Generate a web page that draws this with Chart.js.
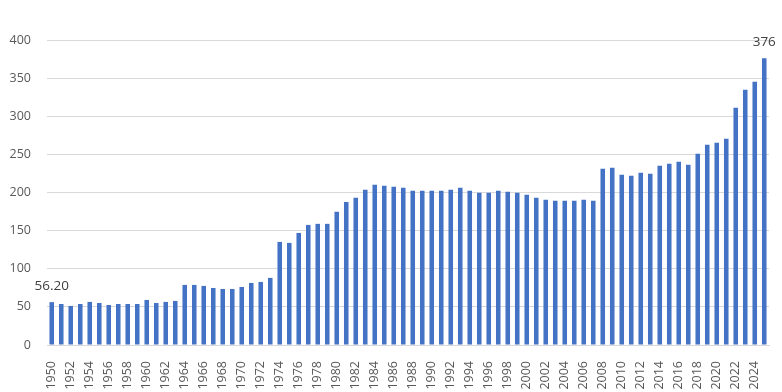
<!DOCTYPE html>
<html>
<head>
<meta charset="utf-8">
<script src="https://cdn.jsdelivr.net/npm/chart.js@4"></script>
<style>
  html, body { margin: 0; padding: 0; background: #fff; }
  #wrap { width: 782px; height: 392px; }
</style>
</head>
<body>
<div id="wrap"><canvas id="chart"></canvas></div>
<script>
const years = [];
for (let y = 1950; y <= 2025; y++) years.push(String(y));

const values = [
  56.2, 53.8, 51.2, 53.8, 56.5, 55.1, 52.5, 53.8, 53.8, 53.8,
  59.1, 55.1, 56.5, 57.8, 78.8, 78.8, 77.5, 74.8, 73.5, 73.5,
  76.1, 81.4, 82.7, 88.0, 135.2, 133.9, 147.0, 157.5, 158.9, 158.9,
  174.6, 187.7, 193.0, 203.5, 210.1, 208.8, 207.4, 206.1, 202.2, 202.2,
  202.2, 202.2, 203.5, 206.1, 202.2, 199.6, 199.6, 202.2, 200.9, 199.6,
  196.9, 193.0, 190.4, 189.1, 189.1, 189.1, 190.4, 189.1, 231.1, 232.4,
  223.2, 221.9, 225.8, 224.5, 235.0, 237.6, 240.3, 236.3, 250.8, 262.6,
  265.2, 270.5, 311.2, 334.8, 345.3, 376
];

// only the first and last bar carry a value label
const labelText = { 0: "56.20", 75: "376" };

const fontFamily = "'Open Sans', sans-serif";

const endLabels = {
  id: "endLabels",
  afterDatasetsDraw(chart) {
    const ctx = chart.ctx;
    const meta = chart.getDatasetMeta(0);
    ctx.save();
    ctx.font = "13.5px " + fontFamily;
    ctx.fillStyle = "#404040";
    ctx.textAlign = "center";
    ctx.textBaseline = "middle";
    Object.keys(labelText).forEach((i) => {
      const bar = meta.data[i];
      ctx.fillText(labelText[i], bar.x, bar.y - 16);
    });
    ctx.restore();
  }
};

new Chart(document.getElementById("chart"), {
  type: "bar",
  data: {
    labels: years,
    datasets: [{
      data: values,
      backgroundColor: "#4472C4",
      barPercentage: 0.48,
      categoryPercentage: 1.0
    }]
  },
  options: {
    responsive: true,
    maintainAspectRatio: false,
    animation: false,
    layout: { padding: { left: 6, right: 13, top: 40, bottom: 2 } },
    plugins: {
      legend: { display: false },
      tooltip: { enabled: false }
    },
    scales: {
      x: {
        grid: { display: false },
        border: { color: "#d9d9d9" },
        afterFit: (scale) => {
          scale.height = 45;
          scale.paddingLeft = 0;
          scale.paddingRight = 0;
        },
        ticks: {
          autoSkip: false,
          minRotation: 90,
          maxRotation: 90,
          padding: 8,
          color: "#595959",
          font: { family: fontFamily, size: 12.5 },
          callback: function (val, idx) {
            return idx % 2 === 0 ? this.getLabelForValue(val) : "";
          }
        }
      },
      y: {
        min: 0,
        max: 400,
        grid: { color: "#d9d9d9", drawTicks: false },
        border: { display: false },
        afterFit: (scale) => { scale.width = 41; },
        ticks: {
          stepSize: 50,
          padding: 16,
          color: "#595959",
          font: { family: fontFamily, size: 12.5 }
        }
      }
    }
  },
  plugins: [endLabels]
});
</script>
</body>
</html>
